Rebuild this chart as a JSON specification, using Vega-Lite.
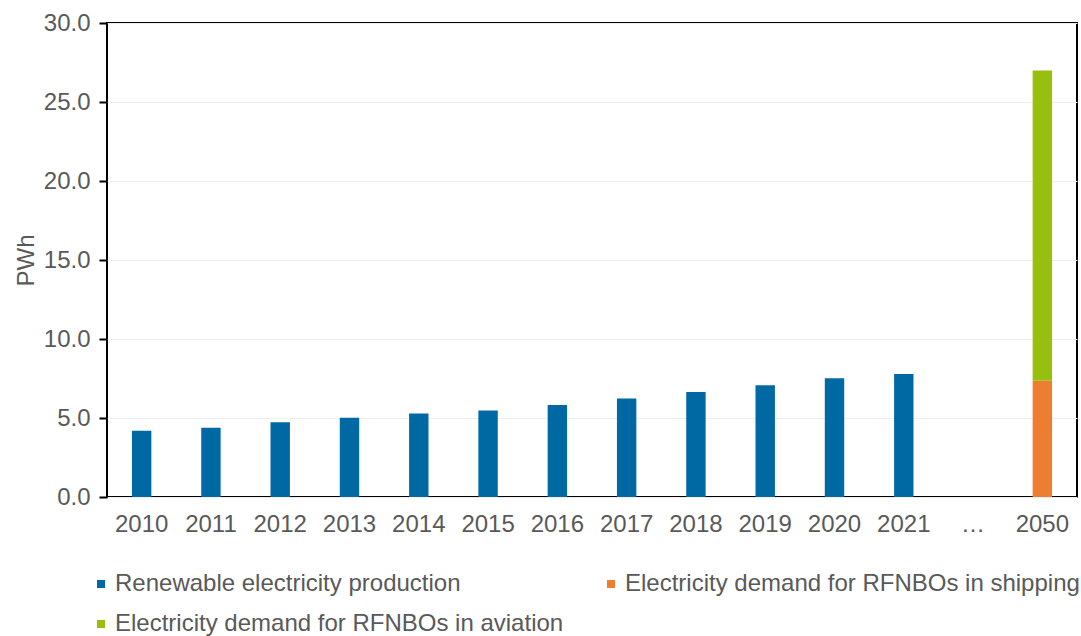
{
  "$schema": "https://vega.github.io/schema/vega-lite/v6.json",
  "width": 970,
  "height": 474,
  "autosize": {"type": "none"},
  "padding": {"left": 107, "top": 23, "right": 4, "bottom": 139},
  "background": "white",
  "config": {
    "font": "Liberation Sans",
    "view": {"stroke": "#000000", "strokeWidth": 2}
  },
  "data": {
    "values": [
      {"year": "2010", "series": "Renewable electricity production", "value": 4.2},
      {"year": "2011", "series": "Renewable electricity production", "value": 4.39},
      {"year": "2012", "series": "Renewable electricity production", "value": 4.73},
      {"year": "2013", "series": "Renewable electricity production", "value": 5.01},
      {"year": "2014", "series": "Renewable electricity production", "value": 5.29},
      {"year": "2015", "series": "Renewable electricity production", "value": 5.48},
      {"year": "2016", "series": "Renewable electricity production", "value": 5.82},
      {"year": "2017", "series": "Renewable electricity production", "value": 6.24},
      {"year": "2018", "series": "Renewable electricity production", "value": 6.64},
      {"year": "2019", "series": "Renewable electricity production", "value": 7.07},
      {"year": "2020", "series": "Renewable electricity production", "value": 7.52},
      {"year": "2021", "series": "Renewable electricity production", "value": 7.79},
      {"year": "2050", "series": "Electricity demand for RFNBOs in shipping", "value": 7.35},
      {"year": "2050", "series": "Electricity demand for RFNBOs in aviation", "value": 19.65}
    ]
  },
  "mark": {"type": "bar"},
  "encoding": {
    "x": {
      "field": "year",
      "type": "nominal",
      "sort": null,
      "scale": {
        "domain": ["2010", "2011", "2012", "2013", "2014", "2015", "2016", "2017", "2018", "2019", "2020", "2021", "…", "2050"],
        "paddingInner": 0.72,
        "paddingOuter": 0.36
      },
      "axis": {
        "title": null,
        "labelAngle": 0,
        "labelFontSize": 24,
        "labelColor": "#595959",
        "labelPadding": 15,
        "ticks": false,
        "domain": false,
        "grid": false
      }
    },
    "y": {
      "field": "value",
      "type": "quantitative",
      "stack": "zero",
      "scale": {"domain": [0, 30], "nice": false},
      "axis": {
        "title": "PWh",
        "titleFontSize": 24,
        "titleFontWeight": "normal",
        "titleColor": "#595959",
        "titlePadding": 5,
        "values": [0, 5, 10, 15, 20, 25, 30],
        "format": ".1f",
        "labelFontSize": 24,
        "labelColor": "#595959",
        "labelPadding": 9,
        "tickSize": 8,
        "tickColor": "#000000",
        "tickWidth": 2,
        "domain": false,
        "grid": true,
        "gridColor": "#eeeeee",
        "gridWidth": 1
      }
    },
    "color": {
      "field": "series",
      "type": "nominal",
      "scale": {
        "domain": ["Renewable electricity production", "Electricity demand for RFNBOs in shipping", "Electricity demand for RFNBOs in aviation"],
        "range": ["#0069A4", "#ED7D31", "#97BF0D"]
      },
      "legend": {
        "title": null,
        "orient": "none",
        "legendX": -18,
        "legendY": 549,
        "direction": "horizontal",
        "columns": 2,
        "gridAlign": "all",
        "columnPadding": 29,
        "rowPadding": 16,
        "symbolType": "square",
        "symbolSize": 64,
        "labelFontSize": 24,
        "labelColor": "#595959",
        "labelOffset": 2,
        "labelLimit": 700
      }
    },
    "order": {"field": "series", "sort": "descending"}
  }
}
